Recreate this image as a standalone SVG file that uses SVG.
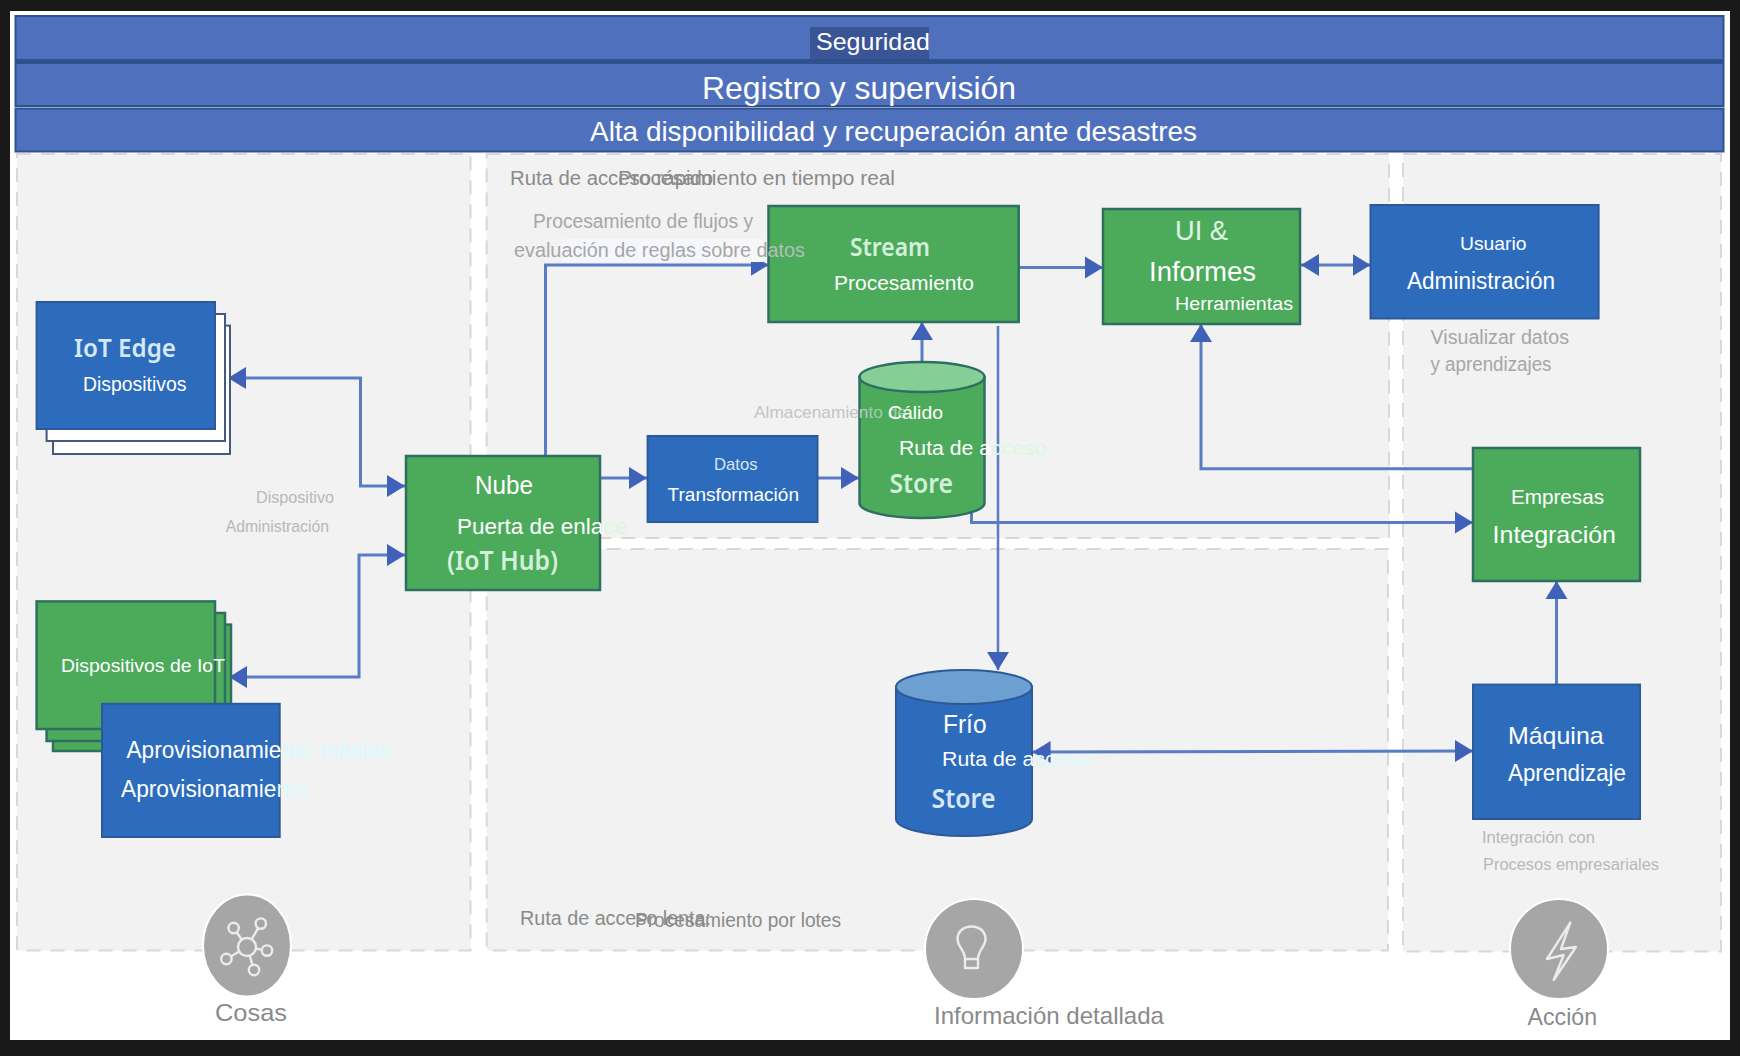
<svg xmlns="http://www.w3.org/2000/svg" width="1740" height="1056" viewBox="0 0 1740 1056">
<defs>
<style>
text{font-family:"Liberation Sans",Arial,sans-serif;fill:#fff}
.cal{font-family:"Noto Sans","Open Sans",sans-serif;font-weight:600;fill:#d3f0da}
.calb{font-family:"Noto Sans","Open Sans",sans-serif;font-weight:600;fill:#d6e8f7}
.bar{fill:#4f71bd;stroke:#2f528f;stroke-width:2}
.panel{fill:#f2f2f2;stroke:#d8d8d8;stroke-width:2;stroke-dasharray:14 10}
.blue{fill:#2d6cbc;stroke:#2c5a98;stroke-width:2}
.green{fill:#4cab5b;stroke:#2f6f62;stroke-width:2.5}
.paper{fill:#fff;stroke:#44597f;stroke-width:2}
.cap{fill:#8a8a8a}
.note{fill:#a6a6a6}
.faint{fill:#b8b8b8}
.ico{fill:#a6a6a6;stroke:#fff;stroke-width:2}
.gly{fill:none;stroke:#ececec;stroke-width:2.4;stroke-linejoin:round}
.sat{fill:#a6a6a6;stroke:#ececec;stroke-width:2.4}
.c{fill:none;stroke:#5a7cc6;stroke-width:3;marker-end:url(#ah)}
.d{marker-start:url(#ah)}
</style>
<marker id="ah" markerUnits="userSpaceOnUse" markerWidth="20" markerHeight="26" refX="18" refY="13" orient="auto-start-reverse" viewBox="0 0 20 26">
<path d="M0,2 L18,13 L0,24 Z" fill="#3f62b8"/>
</marker>
</defs>

<rect id="frame" width="1740" height="1056" fill="#191919"/>
<rect x="10" y="11" width="1720" height="1029" fill="#fff"/>

<g id="panels">
<rect class="panel" x="17" y="154" width="453.500" height="796.500"/>
<rect class="panel" x="486.700" y="154" width="902.300" height="384"/>
<rect class="panel" x="486.700" y="549" width="901.300" height="401.500"/>
<rect class="panel" x="1403" y="154" width="318" height="797.500"/>
</g>

<g id="bar-seguridad">
<rect class="bar" x="15.500" y="16" width="1708" height="45"/>
<rect x="15.500" y="59" width="1708" height="3" fill="#2f4f8f"/>
<rect x="810" y="27" width="119" height="32" fill="#3a5595"/>
<text x="816" y="50" font-size="24" textLength="114" lengthAdjust="spacingAndGlyphs">Seguridad</text>
</g>
<g id="bar-registro">
<rect class="bar" x="15.500" y="63" width="1708" height="43"/>
<text x="702" y="99" font-size="32" textLength="314" lengthAdjust="spacingAndGlyphs">Registro y supervisión</text>
</g>
<g id="bar-alta">
<rect class="bar" x="15.500" y="108.500" width="1708" height="43"/>
<text x="590" y="141" font-size="28" textLength="607" lengthAdjust="spacingAndGlyphs">Alta disponibilidad y recuperación ante desastres</text>
</g>

<g id="connectors">
<path class="c d" d="M228,378 H360.500 V486 H405"/>
<path class="c d" d="M229,677 H359 V555 H405"/>
<path class="c" d="M545.500,456 V265 H768.500"/>
<path class="c" d="M600,478 H647"/>
<path class="c" d="M817.500,478 H859"/>
<path class="c" d="M922,362 V322"/>
<path class="c" d="M1018.700,267.500 H1103"/>
<path class="c d" d="M1301,265 H1370.500"/>
<path class="c" d="M1473,468.700 H1201 V324"/>
<path class="c" d="M971.500,512 V522.600 H1473"/>
<path class="c" style="stroke-width:2.500" d="M998,326 V670"/>
<path class="c d" d="M1032.600,752 L1473,751"/>
<path class="c" d="M1556.500,684.600 V581"/>
</g>

<g id="node-iot-edge">
<rect class="paper" x="53" y="325.600" width="177" height="128.400"/>
<rect class="paper" x="46.600" y="314" width="178.400" height="127"/>
<rect class="blue" x="36.600" y="302" width="178.400" height="127"/>
<text class="calb" x="74" y="357" font-size="26" textLength="102" lengthAdjust="spacingAndGlyphs">IoT Edge</text>
<text x="83" y="391" font-size="20" textLength="103.500" lengthAdjust="spacingAndGlyphs">Dispositivos</text>
</g>

<g id="label-device-mgmt">
<text class="faint" x="256" y="503" font-size="17" textLength="78" lengthAdjust="spacingAndGlyphs">Dispositivo</text>
<text class="faint" x="225.700" y="531.700" font-size="17" textLength="103.300" lengthAdjust="spacingAndGlyphs">Administración</text>
</g>

<g id="node-iot-devices">
<rect class="green" x="53" y="624.600" width="178" height="126.400"/>
<rect class="green" x="46.600" y="613" width="178.400" height="128"/>
<rect class="green" x="36.600" y="601.400" width="178.400" height="127.600"/>
<text x="61" y="672" font-size="19" textLength="164" lengthAdjust="spacingAndGlyphs">Dispositivos de IoT</text>
</g>

<g id="node-provisioning">
<rect class="blue" x="102" y="703.800" width="177.700" height="133.200"/>
<text x="126.500" y="758" font-size="23" textLength="264.500" lengthAdjust="spacingAndGlyphs">Aprovisionamie<tspan fill="#d8fbfd" style="fill:#d8fbfd">nto masivo</tspan></text>
<text x="121" y="797.400" font-size="23" textLength="187" lengthAdjust="spacingAndGlyphs">Aprovisionamie<tspan style="fill:#d8fbfd">nto</tspan></text>
</g>

<g id="node-cloud-gateway">
<rect class="green" x="406" y="456" width="194" height="134"/>
<text x="475" y="494" font-size="25" textLength="58" lengthAdjust="spacingAndGlyphs">Nube</text>
<text x="457" y="534" font-size="22" textLength="170" lengthAdjust="spacingAndGlyphs">Puerta de enla<tspan style="fill:#d9f8e2">ce</tspan></text>
<text class="cal" x="447" y="570" font-size="27" textLength="111" lengthAdjust="spacingAndGlyphs">(IoT Hub)</text>
</g>

<g id="node-data-transformation">
<rect class="blue" x="647.600" y="436" width="169.900" height="86"/>
<text style="fill:#d6e4f4" x="714" y="470" font-size="17" textLength="43.500" lengthAdjust="spacingAndGlyphs">Datos</text>
<text x="667.600" y="501" font-size="19" textLength="131.400" lengthAdjust="spacingAndGlyphs">Transformación</text>
</g>

<g id="label-ruta-rapida">
<text class="cap" x="510" y="185" font-size="20" textLength="203" lengthAdjust="spacingAndGlyphs">Ruta de acceso rápido</text>
<text class="cap" x="618" y="185" font-size="20" textLength="277" lengthAdjust="spacingAndGlyphs">Procesamiento en tiempo real</text>
</g>

<g id="node-stream">
<rect class="green" x="768.500" y="206" width="250.200" height="116"/>
<text class="cal" x="850" y="256" font-size="26" textLength="80" lengthAdjust="spacingAndGlyphs">Stream</text>
<text x="834" y="290" font-size="20" textLength="140" lengthAdjust="spacingAndGlyphs">Procesamiento</text>
</g>

<g id="label-flujos">
<rect x="562" y="239" width="145" height="23" fill="#f6f7fe"/>
<rect x="707" y="239" width="56" height="23" fill="#f7f7f9"/>
<text class="note" x="533" y="228" font-size="20" textLength="220" lengthAdjust="spacingAndGlyphs">Procesamiento de flujos y</text>
<text class="note" x="514" y="256.500" font-size="20" textLength="291" lengthAdjust="spacingAndGlyphs">evaluación de reglas sobre d<tspan style="fill:#b4bfb6">atos</tspan></text>
</g>

<g id="node-warm-store">
<path class="green" d="M859.500,377 V503 A62.500,15 0 0 0 984.500,503 V377 Z"/>
<ellipse cx="922" cy="377" rx="62.500" ry="15" fill="#85cf97" stroke="#2f6f62" stroke-width="2.500"/>
<text style="fill:#c4c4c4" x="754" y="418" font-size="17" textLength="153" lengthAdjust="spacingAndGlyphs">Almacenamien<tspan style="fill:#9fcda8">to de</tspan></text>
<text x="888" y="419" font-size="19" textLength="55" lengthAdjust="spacingAndGlyphs">Cálido</text>
<text x="899" y="454.500" font-size="20" textLength="147.500" lengthAdjust="spacingAndGlyphs">Ruta de a<tspan style="fill:#d9f8e2">cceso</tspan></text>
<text class="cal" x="889.400" y="493" font-size="27" textLength="63.600" lengthAdjust="spacingAndGlyphs">Store</text>
</g>

<g id="node-ui-reporting">
<rect class="green" x="1103" y="209" width="197" height="115"/>
<text x="1175" y="240" font-size="27" textLength="53" lengthAdjust="spacingAndGlyphs" style="fill:#e0f4e4">UI &amp;</text>
<text x="1149" y="281" font-size="28" textLength="107" lengthAdjust="spacingAndGlyphs">Informes</text>
<text x="1175" y="310" font-size="19" textLength="118" lengthAdjust="spacingAndGlyphs">Herramientas</text>
</g>

<g id="node-user-mgmt">
<rect class="blue" x="1370.500" y="205" width="228.100" height="113.500"/>
<text x="1460" y="250" font-size="19" textLength="66.500" lengthAdjust="spacingAndGlyphs">Usuario</text>
<text x="1407" y="288.500" font-size="23" textLength="148" lengthAdjust="spacingAndGlyphs">Administración</text>
</g>
<g id="label-visualizar">
<text class="note" x="1430.500" y="343.500" font-size="20" textLength="138.500" lengthAdjust="spacingAndGlyphs">Visualizar datos</text>
<text class="note" x="1430.500" y="371" font-size="20" textLength="121" lengthAdjust="spacingAndGlyphs">y aprendizajes</text>
</g>

<g id="node-business-integration">
<rect class="green" x="1473" y="448" width="167" height="133"/>
<text x="1511" y="504" font-size="20" textLength="93" lengthAdjust="spacingAndGlyphs">Empresas</text>
<text x="1492.600" y="543" font-size="24" textLength="123.400" lengthAdjust="spacingAndGlyphs">Integración</text>
</g>

<g id="node-cold-store">
<path class="blue" d="M896,687 V819 A68,17 0 0 0 1032,819 V687 Z"/>
<ellipse cx="964" cy="687" rx="68" ry="17" fill="#6c9fd2" stroke="#2c5a98" stroke-width="2"/>
<text x="943" y="733.400" font-size="25" textLength="43.500" lengthAdjust="spacingAndGlyphs">Frío</text>
<text x="942" y="766.400" font-size="20" textLength="148" lengthAdjust="spacingAndGlyphs">Ruta de a<tspan style="fill:#d8fbfd">cceso</tspan></text>
<text class="calb" x="931.600" y="807.500" font-size="27" textLength="63.800" lengthAdjust="spacingAndGlyphs">Store</text>
</g>

<g id="node-machine-learning">
<rect class="blue" x="1473" y="684.600" width="167" height="134.400"/>
<text x="1508" y="743.500" font-size="24" textLength="95.600" lengthAdjust="spacingAndGlyphs">Máquina</text>
<text x="1508" y="780.500" font-size="24" textLength="118" lengthAdjust="spacingAndGlyphs">Aprendizaje</text>
</g>
<g id="label-integracion">
<text class="faint" x="1482" y="843" font-size="17" textLength="113" lengthAdjust="spacingAndGlyphs">Integración con</text>
<text class="faint" x="1483" y="870" font-size="17" textLength="176" lengthAdjust="spacingAndGlyphs">Procesos empresariales</text>
</g>

<g id="label-ruta-lenta">
<text class="cap" x="520" y="925" font-size="20" textLength="191" lengthAdjust="spacingAndGlyphs">Ruta de acceso lenta:</text>
<text class="cap" x="635" y="927" font-size="20" textLength="206" lengthAdjust="spacingAndGlyphs">Procesamiento por lotes</text>
</g>

<g id="icon-cosas">
<ellipse class="ico" cx="247" cy="945.500" rx="44" ry="51"/>
<path class="gly" d="M247,947 L233.600,928 M247,947 L260.800,923.600 M247,947 L267,950.600 M247,947 L254,970 M247,947 L226.400,959"/>
<circle class="sat" cx="247" cy="947" r="9"/>
<circle class="sat" cx="233.600" cy="928" r="5.200"/>
<circle class="sat" cx="260.800" cy="923.600" r="5.200"/>
<circle class="sat" cx="267" cy="950.600" r="5.200"/>
<circle class="sat" cx="254" cy="970" r="5.200"/>
<circle class="sat" cx="226.400" cy="959" r="5.200"/>
<text class="cap" x="215" y="1021" font-size="24" textLength="72" lengthAdjust="spacingAndGlyphs">Cosas</text>
</g>

<g id="icon-informacion">
<ellipse class="ico" cx="974" cy="949" rx="49" ry="50"/>
<path class="gly" d="M965,959 C965,950 957.500,947 957.500,939 C957.500,931 964,926.500 971.500,926.500 C979,926.500 985.500,931 985.500,939 C985.500,947 978,950 978,959 Z M965,959 V968 H978 V959"/>
<text class="cap" x="934" y="1024" font-size="24" textLength="230" lengthAdjust="spacingAndGlyphs">Información detallada</text>
</g>

<g id="icon-accion">
<ellipse class="ico" cx="1559" cy="949" rx="49" ry="50"/>
<path class="gly" d="M1570.300,922.600 L1547,959 L1563.700,955 L1553.700,980 L1575.900,947 L1561,949 Z"/>
<text class="cap" x="1527.600" y="1025" font-size="24" textLength="69.400" lengthAdjust="spacingAndGlyphs">Acción</text>
</g>
</svg>
